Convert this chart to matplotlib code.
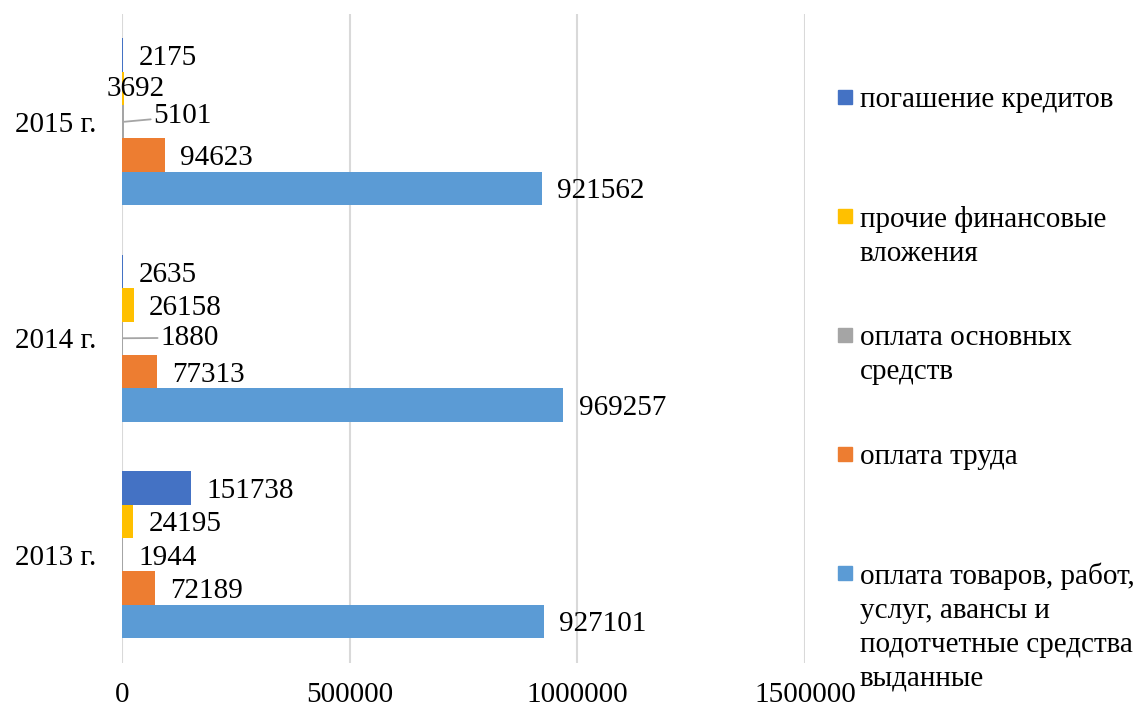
import textwrap
import numpy as np
import matplotlib
matplotlib.use("Agg")
import matplotlib.pyplot as plt
from matplotlib.patches import Rectangle
from matplotlib.ticker import FuncFormatter

plt.rcParams['font.family'] = ['Liberation Serif', 'DejaVu Serif']

# data (bottom-to-top order of the categories)
years = ['2013 г.', '2014 г.', '2015 г.']
series_names = [
    'оплата товаров, работ, услуг, авансы и подотчетные средства выданные',
    'оплата труда',
    'оплата основных средств',
    'прочие финансовые вложения',
    'погашение кредитов',
]
goods = [927101, 969257, 921562]
labour = [72189, 77313, 94623]
fixed_assets = [1944, 1880, 5101]
investments = [24195, 26158, 3692]
loans = [151738, 2635, 2175]
colors = ['#5B9BD5', '#ED7D31', '#A5A5A5', '#FFC000', '#4472C4']
x_ticks = [0, 500000, 1000000, 1500000]

all_series = [goods, labour, fixed_assets, investments, loans]

W, H = 1143, 710
FS = 21
fig = plt.figure(figsize=(W / 100, H / 100), dpi=100)
ax = fig.add_axes([122 / W, 1 - 663 / H, (805 - 122) / W, (663 - 13.5) / H])

h = 0.154
# label offsets (points) where Excel moved labels around
special = {
    (3, 2): (-12, 1.5, False),
    (2, 2): (21, 6, True),
    (2, 1): (27, 2.5, True),
}
for i, (vals, col) in enumerate(zip(all_series, colors)):
    ypos = np.arange(len(years)) + (i - 2) * h
    ax.barh(ypos, vals, height=h, color=col, zorder=2)
    for j, (v, y) in enumerate(zip(vals, ypos)):
        dx, dy, leader = special.get((i, j), (11, 0, False))
        kw = {}
        if leader:
            kw['arrowprops'] = dict(arrowstyle='-', color='#A5A5A5', lw=1.3,
                                    shrinkA=0, shrinkB=0)
        ax.annotate(f'{v}', xy=(v, y), xytext=(dx, dy), textcoords='offset points',
                    ha='left', va='center_baseline', fontsize=FS, zorder=3, **kw)

ax.set_xlim(0, 1500000)
ax.set_ylim(-0.5, 2.5)
ax.set_xticks(x_ticks)
ax.xaxis.set_major_formatter(FuncFormatter(lambda v, p: f'{v:.0f}'))
ax.set_yticks(range(len(years)), years)
ax.grid(axis='x', color='#D9D9D9', lw=1.5, zorder=0)
ax.set_axisbelow(True)
for s in ax.spines.values():
    s.set_visible(False)
ax.tick_params(axis='x', length=0, labelsize=FS, pad=14)
ax.tick_params(axis='y', length=0, labelsize=FS, pad=18.5)

# legend, Excel style: markers evenly spaced, aligned to first text line
for k, i in enumerate(range(len(series_names) - 1, -1, -1)):
    yc = 97 + 119 * k
    fig.patches.append(Rectangle((838 / W, 1 - (yc + 7) / H), 14 / W, 14 / H,
                                 transform=fig.transFigure, color=colors[i]))
    fig.text(860 / W, 1 - (yc - 10) / H, textwrap.fill(series_names[i], 22),
             ha='left', va='top', fontsize=FS, linespacing=1.38)

fig.savefig('out.png', dpi=100)
